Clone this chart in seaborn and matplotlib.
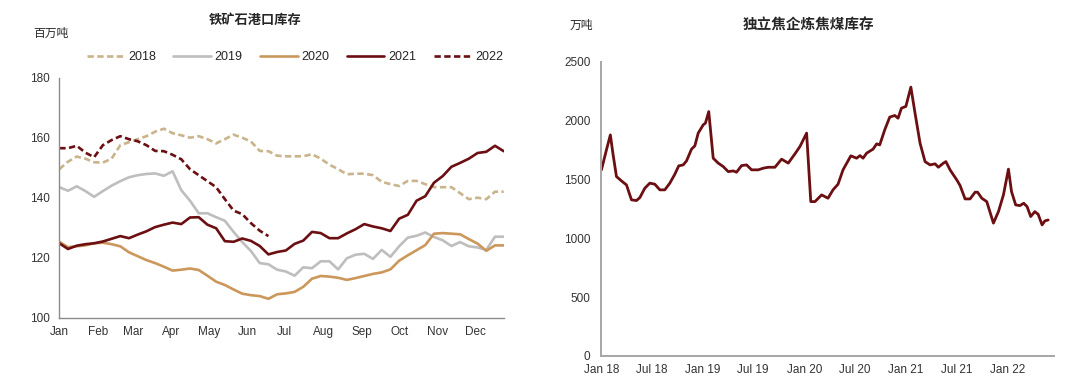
import pandas as pd
import matplotlib
matplotlib.use("Agg")
import matplotlib.pyplot as plt
import matplotlib.dates as mdates
import seaborn as sns

# ---------------- data: iron ore port stocks (weekly, 百万吨) ----------------
ore_2018 = [149.5, 152, 153.7, 153, 151.8, 151.7, 153, 157.5, 158.5, 159.5, 160.5, 162, 163,
            161.5, 160.8, 160, 160.5, 159.5, 158.1, 159.5, 161, 160, 158.7, 155.6, 155.5, 154,
            153.8, 153.8, 153.8, 154.5, 153, 151, 149.5, 147.8, 148, 148, 147.5, 145.3, 144.5,
            143.9, 145.6, 145.6, 144.5, 143.5, 143.5, 143.5, 141.5, 139.5, 140, 139.5, 142, 142]
ore_2019 = [143.5, 142.3, 143.8, 142.2, 140.3, 142.2, 144, 145.5, 146.8, 147.5, 147.9, 148.1, 147.3,
            148.8, 142.5, 139, 134.8, 134.8, 133.5, 132.3, 128.6, 125.2, 122.2, 118.2, 117.8, 116,
            115.4, 114, 116.8, 116.5, 118.8, 118.8, 116.1, 119.8, 121, 121.3, 119.6, 122.6, 120.3,
            123.8, 126.7, 127.3, 128.4, 126.9, 125.8, 123.9, 125.2, 123.8, 123.4, 122.6, 127, 127]
ore_2020 = [125.3, 123.5, 123.8, 124.1, 124.8, 125, 124.5, 123.8, 121.8, 120.5, 119.2, 118.2, 117,
            115.7, 116, 116.4, 115.9, 114, 112, 110.9, 109.4, 108, 107.5, 107.2, 106.3, 107.8,
            108.1, 108.6, 110.3, 113, 113.9, 113.7, 113.3, 112.6, 113.2, 113.9, 114.6, 115.1, 116.1,
            119, 120.8, 122.5, 124.2, 128, 128.2, 128, 127.8, 126.2, 124.7, 122.3, 124.1, 124.1]
ore_2021 = [124.8, 122.9, 124, 124.5, 124.8, 125.4, 126.3, 127.2, 126.5, 127.7, 128.8, 130.2, 131,
            131.7, 131.2, 133.4, 133.5, 131, 129.8, 125.5, 125.3, 126.4, 125.6, 123.9, 121.1, 121.9,
            122.4, 124.6, 125.7, 128.6, 128.2, 126.5, 126.5, 128.1, 129.5, 131.2, 130.4, 129.8, 128.9,
            133, 134.3, 139, 140.5, 145, 147.2, 150.3, 151.6, 153, 154.9, 155.3, 157.3, 155.5]
ore_2022 = [156.5, 156.5, 157.3, 155, 153.5, 157.5, 159.2, 160.5, 159.5, 158.8, 157.5, 155.6, 155.5,
            154.3, 152.8, 149.5, 147.5, 145.5, 143.5, 139.5, 135.7, 134.5, 131.5, 129, 127.2]
ore_years = ["2018", "2019", "2020", "2021", "2022"]

# ---------------- data: coking coal stocks at independent coke plants (万吨) ----------------
coal_dates = ["2018-01-01", "2018-01-19", "2018-02-02", "2018-02-12", "2018-02-24", "2018-03-14",
              "2018-04-01", "2018-04-19", "2018-05-07", "2018-05-19", "2018-06-06", "2018-06-24",
              "2018-07-12", "2018-07-30", "2018-08-17", "2018-09-04", "2018-09-22", "2018-10-06",
              "2018-10-22", "2018-11-03", "2018-11-21", "2018-12-03", "2018-12-15", "2019-01-02",
              "2019-01-10", "2019-01-22", "2019-02-07", "2019-02-25", "2019-03-15", "2019-04-02",
              "2019-04-20", "2019-05-02", "2019-05-20", "2019-06-07", "2019-06-25", "2019-07-19",
              "2019-08-06", "2019-08-24", "2019-09-17", "2019-10-11", "2019-11-04", "2019-11-28",
              "2019-12-16", "2020-01-09", "2020-01-24", "2020-02-08", "2020-03-03", "2020-03-26",
              "2020-04-13", "2020-05-01", "2020-05-19", "2020-06-16", "2020-07-07", "2020-07-19",
              "2020-07-30", "2020-08-12", "2020-09-04", "2020-09-17", "2020-09-28", "2020-10-16",
              "2020-11-03", "2020-11-21", "2020-12-03", "2020-12-15", "2020-12-31", "2021-01-18",
              "2021-02-02", "2021-02-20", "2021-03-10", "2021-03-28", "2021-04-15", "2021-04-27",
              "2021-05-15", "2021-05-24", "2021-06-08", "2021-07-02", "2021-07-14", "2021-08-01",
              "2021-08-19", "2021-09-06", "2021-09-15", "2021-09-30", "2021-10-18", "2021-11-11",
              "2021-11-29", "2021-12-17", "2022-01-04", "2022-01-15", "2022-01-30", "2022-02-14",
              "2022-02-28", "2022-03-12", "2022-03-25", "2022-04-09", "2022-04-21", "2022-05-05",
              "2022-05-15", "2022-05-27"]
coal_values = [1581, 1751, 1878, 1708, 1524, 1487,
               1453, 1326, 1320, 1345, 1425, 1468,
               1459, 1411, 1411, 1468, 1544, 1615,
               1623, 1657, 1757, 1785, 1893, 1963,
               1978, 2076, 1680, 1638, 1609, 1566,
               1572, 1561, 1617, 1623, 1581, 1581,
               1595, 1603, 1603, 1672, 1638, 1717,
               1779, 1893, 1311, 1311, 1368, 1340,
               1411, 1459, 1581, 1700, 1680, 1702,
               1680, 1723, 1757, 1802, 1793, 1921,
               2029, 2043, 2020, 2105, 2120, 2284,
               2063, 1808, 1651, 1623, 1632, 1603,
               1638, 1651, 1581, 1496, 1448, 1334,
               1334, 1391, 1391, 1340, 1311, 1128,
               1226, 1368, 1587, 1397, 1283, 1277,
               1297, 1269, 1184, 1226, 1203, 1113,
               1147, 1155]

# ---------------- build frames ----------------
base = pd.Timestamp("2021-01-01")
rows = []
for yr, vals in zip(ore_years, [ore_2018, ore_2019, ore_2020, ore_2021, ore_2022]):
    for i, v in enumerate(vals):
        rows.append({"date": base + pd.Timedelta(days=7 * i), "value": v, "year": yr})
ore = pd.DataFrame(rows)
coal = pd.DataFrame({"date": pd.to_datetime(coal_dates), "value": coal_values})

# ---------------- style ----------------
sns.set_theme(style="white")
plt.rcParams["font.family"] = ["Liberation Sans", "Noto Sans CJK SC", "DejaVu Sans"]

dark_red = "#6B0F12"
palette = {"2018": "#C9B48C", "2019": "#BEBEBE", "2020": "#CB975B", "2021": dark_red, "2022": dark_red}
dashes = {"2018": (2.4, 1.3), "2019": "", "2020": "", "2021": "", "2022": (2.4, 1.3)}

fig = plt.figure(figsize=(10.8, 3.89), dpi=100)
ax1 = fig.add_axes([0.0549, 0.1833, 0.4115, 0.617])
ax2 = fig.add_axes([0.5569, 0.0851, 0.4188, 0.7563])

# --- left: iron ore port inventory ---
sns.lineplot(data=ore, x="date", y="value", hue="year", style="year",
             palette=palette, dashes=dashes, linewidth=1.9, ax=ax1)
ax1.set_xlim(base, base + pd.Timedelta(days=357))
ax1.set_ylim(100, 180)
ax1.set_yticks([100, 120, 140, 160, 180])
ax1.xaxis.set_major_locator(mdates.MonthLocator())
ax1.xaxis.set_major_formatter(mdates.DateFormatter("%b"))
ax1.set_xlabel("")
ax1.set_ylabel("")

handles, labels = ax1.get_legend_handles_labels()
ax1.get_legend().remove()
fig.legend(handles, labels, loc="center", bbox_to_anchor=(0.273, 0.853), ncol=5,
           frameon=False, fontsize=9, handlelength=3.0, handletextpad=0.3,
           columnspacing=1.4)

fig.text(0.236, 0.948, "铁矿石港口库存", ha="center", va="center", fontsize=9.5, fontweight="bold")
fig.text(0.031, 0.912, "百万吨", ha="left", va="center", fontsize=8.5)

# --- right: coking coal inventory ---
sns.lineplot(data=coal, x="date", y="value", color=dark_red, linewidth=2.0, ax=ax2)
ax2.set_xlim(pd.Timestamp("2018-01-01"), pd.Timestamp("2022-06-16"))
ax2.set_ylim(0, 2500)
ax2.set_yticks([0, 500, 1000, 1500, 2000, 2500])
ax2.xaxis.set_major_locator(mdates.MonthLocator(bymonth=[1, 7]))
ax2.xaxis.set_major_formatter(mdates.DateFormatter("%b %y"))
ax2.set_xlabel("")
ax2.set_ylabel("")

fig.text(0.749, 0.933, "独立焦企炼焦煤库存", ha="center", va="center", fontsize=10.5, fontweight="bold")
fig.text(0.527, 0.933, "万吨", ha="left", va="center", fontsize=8.5)

for ax, spc, spw, px, py in [(ax1, "#8C8C8C", 1.0, 6, 7), (ax2, "#A6A6A6", 1.4, 6, 8)]:
    sns.despine(ax=ax)
    for s in ["left", "bottom"]:
        ax.spines[s].set_color(spc)
        ax.spines[s].set_linewidth(spw)
    ax.tick_params(axis="both", direction="in", length=3.5, width=0.8, color=spc,
                   labelsize=8.5, labelcolor="#333333")
    ax.tick_params(axis="x", pad=px)
    ax.tick_params(axis="y", pad=py)
    ax.set_facecolor("white")

fig.savefig("out.png", dpi=100, facecolor="white")
